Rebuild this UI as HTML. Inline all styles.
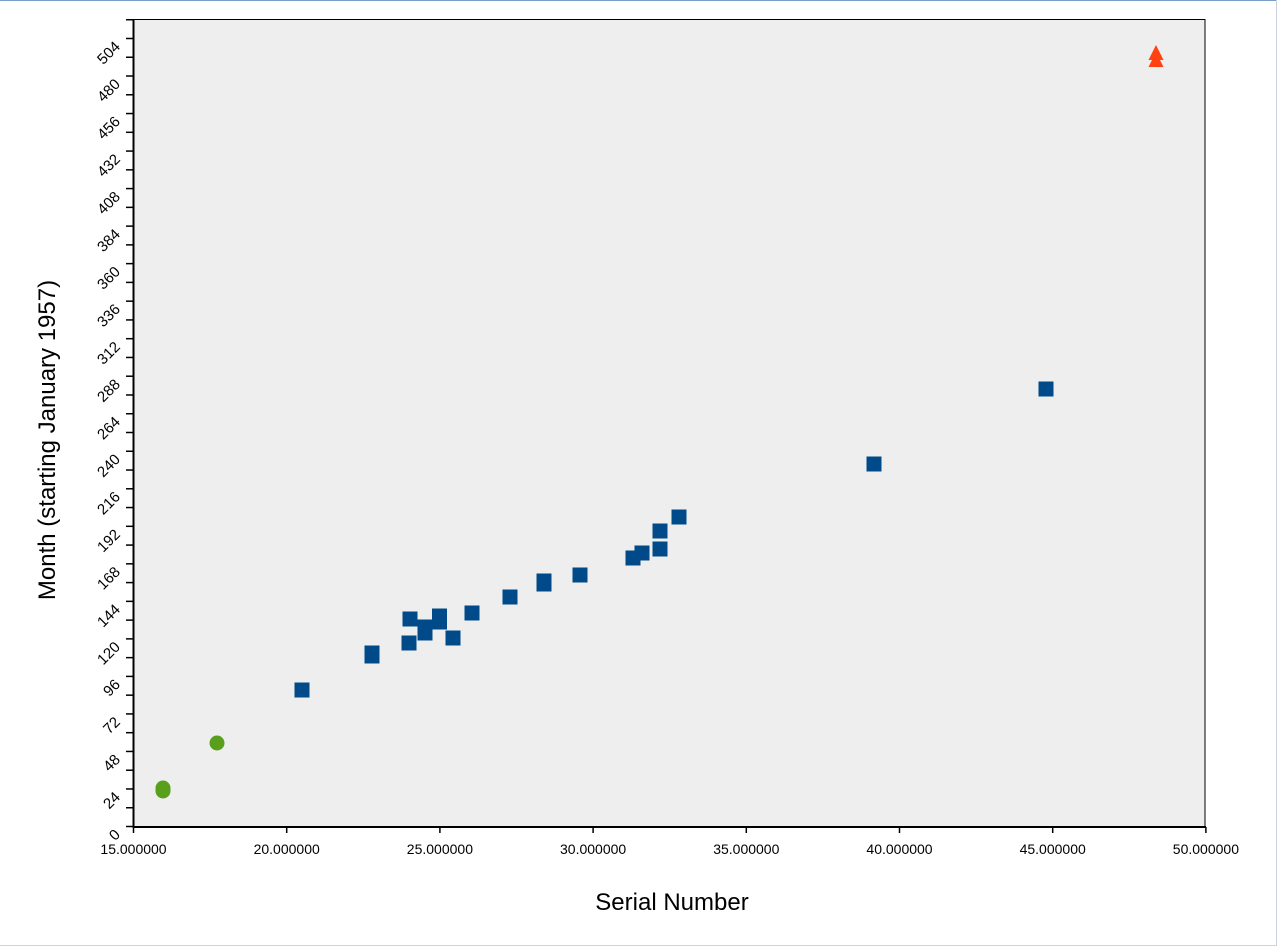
<!DOCTYPE html>
<html><head><meta charset="utf-8"><style>
html,body{margin:0;padding:0;background:#fff;}
svg{display:block;font-family:"Liberation Sans",sans-serif;}
</style></head><body>
<svg width="1277" height="946" viewBox="0 0 1277 946" xmlns="http://www.w3.org/2000/svg">
<rect x="0" y="0" width="1277" height="946" fill="#fff"/>
<line x1="0" y1="0.5" x2="1277" y2="0.5" stroke="#7a9cc8" stroke-width="1"/>
<line x1="1276.5" y1="0" x2="1276.5" y2="946" stroke="#c8d4e6" stroke-width="1"/>
<line x1="0" y1="945.5" x2="1277" y2="945.5" stroke="#c8d4e6" stroke-width="1"/>
<rect x="134" y="19.5" width="1071" height="807" fill="#eeeeee" stroke="#000" stroke-width="1"/>
<line x1="133.5" y1="19" x2="133.5" y2="828" stroke="#000" stroke-width="2"/>
<line x1="133" y1="827" x2="1206" y2="827" stroke="#000" stroke-width="2"/>
<g id="yt" stroke="#000" stroke-width="1.5"></g>
<g id="yl" font-size="15" fill="#000"></g>
<g id="xt" stroke="#000" stroke-width="1.5"></g>
<g id="xl" font-size="14" fill="#000" text-anchor="middle"></g>
<g fill="#004a8a" id="sq"></g>
<g fill="#58a01c">
<rect x="155.5" y="780.5" width="15" height="18" rx="7.5"/>
<circle cx="217" cy="743" r="7.5"/>
</g>
<g fill="#ff4210">
<polygon points="1156,45 1163.5,60 1148.5,60"/>
<polygon points="1156,52 1163.5,67 1148.5,67"/>
</g>
<text x="672" y="910" font-size="24" text-anchor="middle">Serial Number</text>
<text transform="translate(55,440) rotate(-90)" font-size="24" text-anchor="middle">Month (starting January 1957)</text>
<script>
var ns="http://www.w3.org/2000/svg";
function el(p,t,a,txt){var e=document.createElementNS(ns,t);for(var k in a)e.setAttribute(k,a[k]);if(txt!=null)e.textContent=txt;document.getElementById(p).appendChild(e);}
for(var v=0;v<=516;v+=12){var y=826.5-v*1.5635;el("yt","line",{x1:126,x2:133,y1:y,y2:y});
 if(v%24==0){var ax=121,ay=y+9;el("yl","text",{x:ax,y:ay,"text-anchor":"end",transform:"rotate(-45 "+ax+" "+ay+")"},String(v));}}
for(var i=0;i<=7;i++){var x=133.5+i*153.2;el("xt","line",{x1:x,x2:x,y1:827,y2:833});el("xl","text",{x:x,y:854},(15+5*i)+".000000");}
var pts=[[302,690],[372,653],[372,656],[409,643],[410,619],[425,627],[425,633],[439.5,616],[439.5,622],[453,638],[472,613],[510,597],[544,581],[544,584],[580,575],[633,558],[642,553],[660,531],[660,549],[679,517],[874,464],[1046,389]];
pts.forEach(function(p){el("sq","rect",{x:p[0]-7.5,y:p[1]-7.5,width:15,height:15});});
</script>
</svg>
</body></html>
